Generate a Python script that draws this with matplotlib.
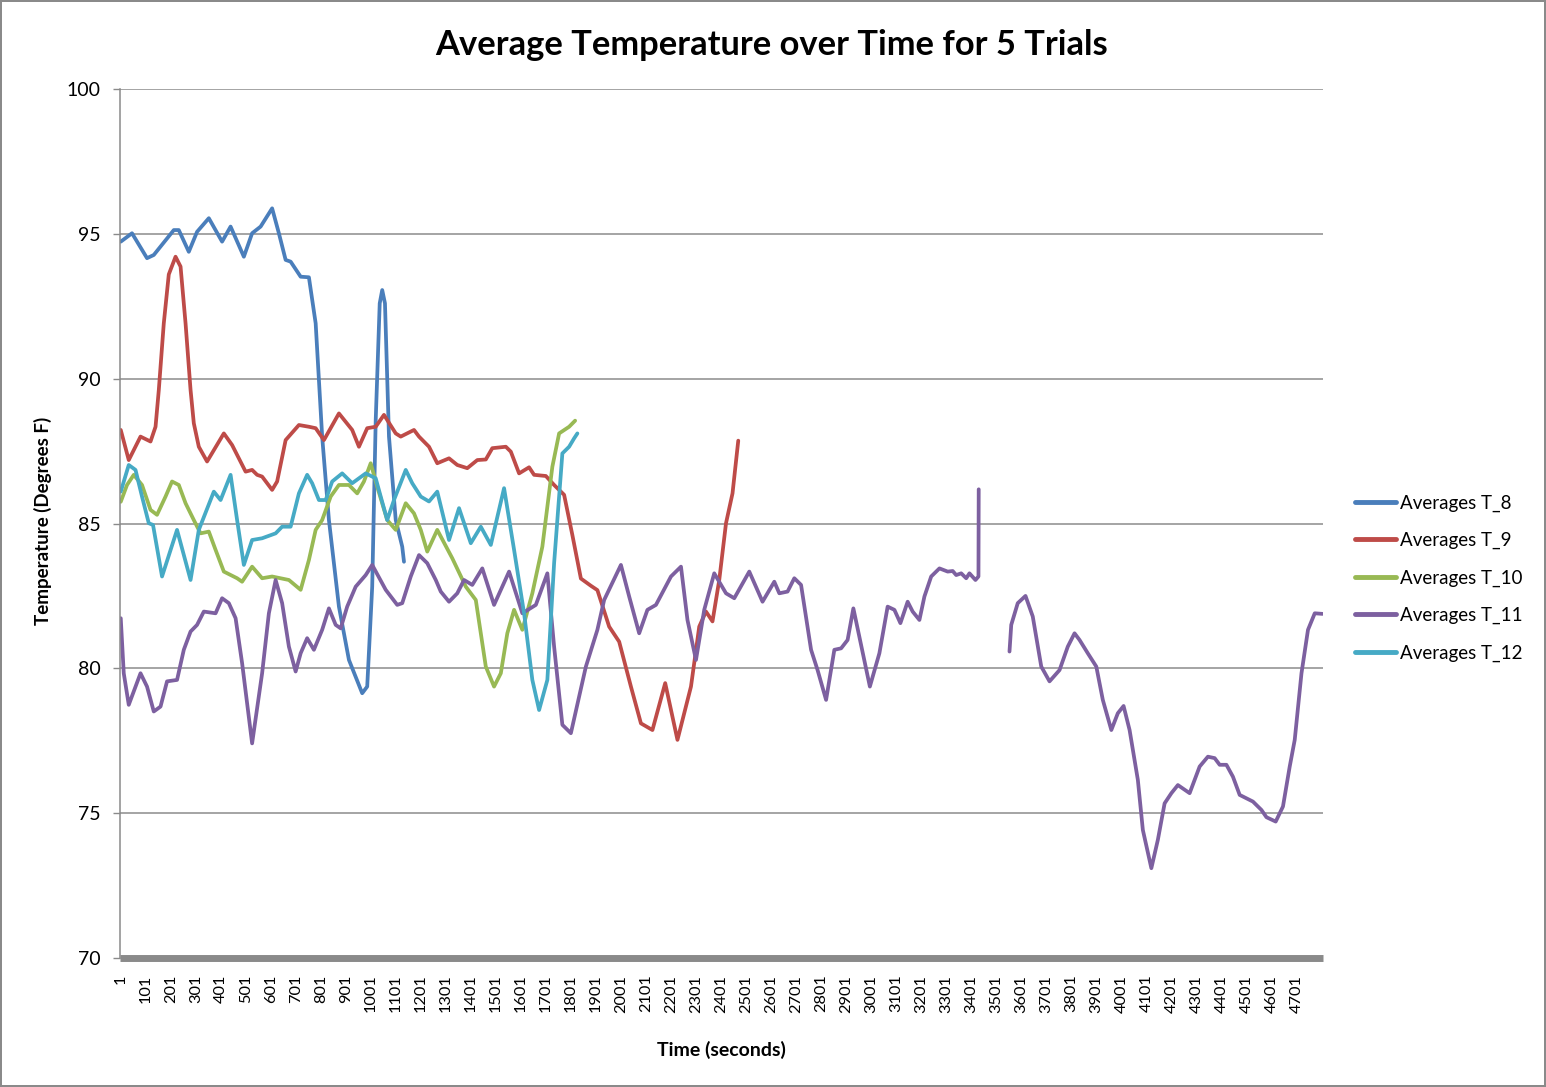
import numpy as np
import matplotlib
matplotlib.use("Agg")
import matplotlib.pyplot as plt

plt.rcParams['font.family'] = ['Lato', 'DejaVu Sans']

# ---------------- data ----------------
t8 = [1, 46, 106, 133, 213, 233, 273, 306, 353, 406, 440, 493, 526, 560, 606, 633, 660, 680,
      720, 753, 780, 806, 833, 873, 913, 966, 986, 1006, 1020, 1036, 1046, 1057, 1073, 1100, 1126, 1133]
v8 = [94.73, 95.02, 94.16, 94.27, 95.13, 95.13, 94.38, 95.07, 95.54, 94.73, 95.25, 94.21, 95.02, 95.25,
      95.88, 95.02, 94.10, 94.04, 93.52, 93.50, 91.91, 88.00, 85.12, 82.13, 80.29, 79.14, 79.37, 82.82,
      88.57, 92.6, 93.06, 92.6, 88.00, 85.12, 84.20, 83.68]

t9 = [1, 33, 80, 120, 140, 153, 173, 193, 220, 240, 260, 280, 293, 313, 346, 413, 446, 500, 526, 546,
      566, 606, 626, 660, 713, 753, 780, 813, 873, 926, 953, 986, 1020, 1053, 1100, 1120, 1173, 1193,
      1233, 1266, 1313, 1346, 1386, 1426, 1460, 1486, 1540, 1560, 1593, 1633, 1653, 1700, 1733, 1773,
      1806, 1840, 1880, 1906, 1953, 1993, 2040, 2080, 2126, 2177, 2226, 2280, 2313, 2340, 2366, 2393,
      2420, 2446, 2469]
v9 = [88.23, 87.19, 88.00, 87.83, 88.34, 89.6, 91.91, 93.6, 94.21, 93.87, 91.91, 89.61, 88.46, 87.65,
      87.14, 88.11, 87.71, 86.79, 86.85, 86.68, 86.62, 86.16, 86.45, 87.88, 88.40, 88.34, 88.29, 87.88,
      88.80, 88.23, 87.65, 88.29, 88.34, 88.75, 88.11, 88.00, 88.23, 88.00, 87.65, 87.08, 87.25, 87.02,
      86.91, 87.19, 87.21, 87.60, 87.65, 87.48, 86.73, 86.94, 86.68, 86.64, 86.33, 85.99, 84.6, 83.1,
      82.85, 82.7, 81.44, 80.92, 79.37, 78.10, 77.87, 79.49, 77.53, 79.37, 81.44, 81.96, 81.62, 83.05,
      85.01, 86.04, 87.86]

t10 = [1, 26, 53, 86, 120, 146, 180, 206, 233, 260, 293, 320, 353, 380, 413, 466, 486, 526, 566, 606,
       673, 720, 753, 780, 806, 840, 873, 913, 946, 973, 1000, 1026, 1066, 1100, 1140, 1173, 1200, 1226,
       1266, 1326, 1380, 1420, 1460, 1493, 1520, 1546, 1573, 1606, 1646, 1686, 1726, 1753, 1793, 1817]
v10 = [85.75, 86.33, 86.68, 86.33, 85.47, 85.30, 85.93, 86.45, 86.33, 85.70, 85.12, 84.66, 84.72, 84.09,
       83.34, 83.11, 82.99, 83.51, 83.11, 83.17, 83.05, 82.71, 83.74, 84.78, 85.12, 85.93, 86.33, 86.33,
       86.04, 86.45, 87.08, 86.27, 85.12, 84.78, 85.70, 85.35, 84.78, 84.03, 84.78, 83.80, 82.82, 82.36,
       80.06, 79.37, 79.83, 81.21, 82.02, 81.33, 82.59, 84.20, 86.96, 88.11, 88.34, 88.55]

t11 = [1, 13, 33, 80, 106, 133, 160, 186, 226, 253, 280, 306, 333, 380, 406, 433, 460, 486, 526, 566,
       593, 620, 646, 673, 700, 720, 746, 773, 806, 833, 860, 880, 906, 940, 980, 1006, 1060, 1106, 1126,
       1160, 1193, 1226, 1260, 1280, 1313, 1346, 1373, 1406, 1446, 1493, 1553, 1606, 1660, 1706, 1733,
       1766, 1800, 1860, 1906, 1933, 2000, 2033, 2073, 2106, 2140, 2200, 2240, 2266, 2300, 2333, 2373,
       2420, 2453, 2513, 2566, 2613, 2633, 2666, 2693, 2720, 2760, 2786, 2820, 2853, 2880, 2906, 2929,
       2995, 3033, 3066, 3093, 3117, 3146, 3166, 3193, 3213, 3240, 3273, 3306, 3326, 3340, 3360, 3380,
       3393, 3417, 3429, 3430,
       3490,
       3553, 3560, 3586, 3617, 3646, 3680, 3713, 3753, 3786, 3813, 3833, 3866, 3900, 3926, 3960, 3986,
       4009, 4033, 4066, 4086, 4120, 4146, 4173, 4200, 4226, 4273, 4313, 4346, 4373, 4393, 4420, 4446,
       4473, 4526, 4560, 4580, 4617, 4646, 4673, 4693, 4720, 4746, 4773, 4804]
v11 = [81.73, 79.83, 78.74, 79.83, 79.37, 78.51, 78.68, 79.55, 79.60, 80.64, 81.27, 81.50, 81.96, 81.90,
       82.42, 82.25, 81.73, 80.18, 77.41, 79.83, 81.90, 83.05, 82.25, 80.75, 79.89, 80.52, 81.04, 80.64,
       81.33, 82.07, 81.50, 81.38, 82.13, 82.82, 83.22, 83.57, 82.71, 82.19, 82.25, 83.17, 83.91, 83.63,
       83.05, 82.65, 82.30, 82.59, 83.05, 82.88, 83.45, 82.19, 83.34, 81.90, 82.19, 83.28, 80.75, 78.05,
       77.76, 80.06, 81.33, 82.36, 83.57, 82.48, 81.21, 82.02, 82.19, 83.17, 83.51, 81.67, 80.29, 82.02,
       83.28, 82.59, 82.42, 83.34, 82.30, 82.99, 82.59, 82.65, 83.11, 82.88, 80.64, 79.94, 78.91, 80.64,
       80.69, 80.98, 82.07, 79.37, 80.52, 82.13, 82.02, 81.56, 82.30, 81.96, 81.67, 82.48, 83.17, 83.45,
       83.34, 83.36, 83.22, 83.28, 83.11, 83.28, 83.05, 83.17, 86.18,
       np.nan,
       80.58, 81.50, 82.25, 82.50, 81.79, 80.06, 79.55, 79.94, 80.75, 81.21, 80.98, 80.52, 80.06, 78.91,
       77.87, 78.45, 78.70, 77.87, 76.15, 74.42, 73.10, 74.08, 75.34, 75.69, 75.97, 75.69, 76.61, 76.95,
       76.90, 76.67, 76.67, 76.26, 75.63, 75.40, 75.11, 74.86, 74.71, 75.23, 76.61, 77.53, 79.83, 81.33,
       81.90, 81.88]

t12 = [1, 33, 60, 86, 113, 130, 166, 226, 280, 313, 373, 400, 440, 466, 493, 526, 566, 620, 646, 680,
       713, 746, 766, 793, 820, 846, 886, 926, 980, 1020, 1040, 1066, 1093, 1140, 1166, 1200, 1233, 1266,
       1313, 1353, 1400, 1440, 1480, 1533, 1573, 1613, 1646, 1673, 1706, 1733, 1766, 1793, 1813, 1826]
v12 = [86.10, 87.02, 86.85, 85.93, 85.01, 84.95, 83.17, 84.78, 83.05, 84.78, 86.10, 85.81, 86.68, 85.12,
       83.57, 84.43, 84.49, 84.66, 84.89, 84.89, 86.04, 86.68, 86.39, 85.81, 85.81, 86.45, 86.73, 86.39,
       86.73, 86.56, 85.93, 85.12, 85.81, 86.85, 86.39, 85.93, 85.76, 86.10, 84.43, 85.53, 84.32, 84.89,
       84.26, 86.22, 84.09, 81.90, 79.60, 78.56, 79.60, 83.63, 87.42, 87.65, 87.94, 88.11]

series_names = ["Averages T_8", "Averages T_9", "Averages T_10", "Averages T_11", "Averages T_12"]
series_t = [t8, t9, t10, t11, t12]
series_v = [v8, v9, v10, v11, v12]
colors = ["#4A7EBB", "#BE4B48", "#98B954", "#7D60A0", "#46AAC5"]

xtick_pos = list(range(1, 4702, 100))
xtick_labels = [str(p) for p in xtick_pos]
yticks = [70, 75, 80, 85, 90, 95, 100]

# ---------------- figure ----------------
fig = plt.figure(figsize=(15.46, 10.87), dpi=100, facecolor="white",
                 edgecolor="#8a8a8a", linewidth=1.5)
ax = fig.add_axes([120 / 1546, 1 - 958 / 1087, (1323 - 120) / 1546, (958 - 89) / 1087])

for name, tt, vv, c in zip(series_names, series_t, series_v, colors):
    ax.plot(tt, vv, color=c, lw=2.7, label=name, solid_joinstyle="round",
            solid_capstyle="round")

ax.set_xlim(-2, 4806)
ax.set_ylim(70, 100)
ax.set_yticks(yticks)
ax.set_yticklabels([str(y) for y in yticks], fontsize=14)
ax.set_xticks(xtick_pos)
ax.set_xticklabels(xtick_labels, rotation=90, fontsize=11.8)
ax.tick_params(axis="x", length=0, pad=12)
ax.tick_params(axis="y", length=5, width=1, color="#8a8a8a", direction="out", pad=9)

for y in yticks[1:]:
    ax.axhline(y, color="#8c8c8c", lw=1.1, zorder=0)

for s in ["top", "right"]:
    ax.spines[s].set_visible(False)
ax.spines["left"].set_color("#8a8a8a")
ax.spines["left"].set_linewidth(1.1)
ax.spines["bottom"].set_color("#8a8a8a")
ax.spines["bottom"].set_linewidth(5.0)
ax.spines["bottom"].set_capstyle("butt")

fig.text(772 / 1546, 1 - 45 / 1087, "Average Temperature over Time for 5 Trials",
         ha="center", va="center", fontsize=24.8, fontweight="bold")
fig.text(43 / 1546, 1 - 521 / 1087, "Temperature (Degrees F)", rotation=90,
         ha="center", va="center", fontsize=13.5, fontweight="bold")
fig.text(721 / 1546, 1 - 1050 / 1087, "Time (seconds)", ha="center", va="center",
         fontsize=14, fontweight="bold")

leg = fig.legend(loc="center left", bbox_to_anchor=(1355 / 1546, 1 - 578 / 1087),
                 frameon=False, fontsize=13.5, handlelength=2.2, handletextpad=0.2,
                 labelspacing=1.08, borderpad=0, borderaxespad=0)
for line in leg.get_lines():
    line.set_linewidth(3.5)

fig.savefig("out.png", dpi=100, facecolor="white", edgecolor=fig.get_edgecolor())
